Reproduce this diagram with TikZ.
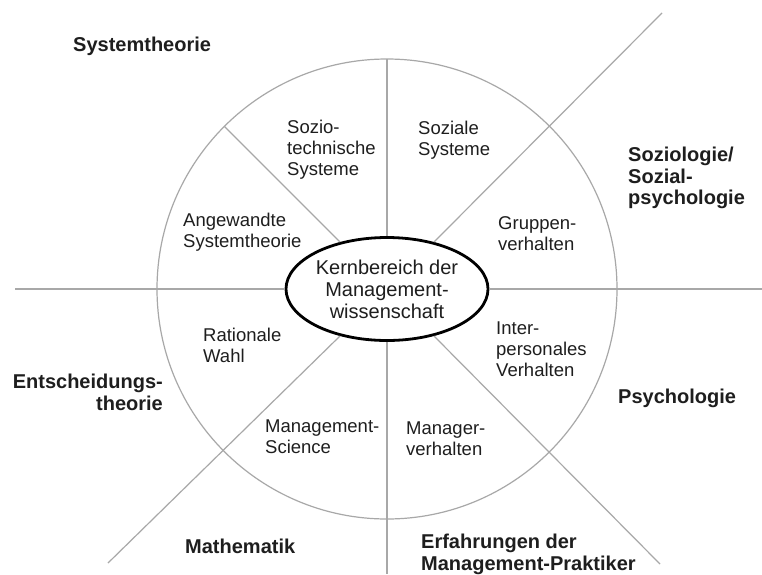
\documentclass[tikz,border=0pt]{standalone}
\usepackage{fontspec}
\setmainfont{Liberation Sans}
\usetikzlibrary{shapes.geometric,calc}
\definecolor{rule}{HTML}{A8A8A8}
\definecolor{ink}{HTML}{1E1E1E}
\begin{document}
\begin{tikzpicture}[x=1pt,y=-1pt,
  rulestyle/.style={draw=rule,line width=1.2pt},
  field/.style={inner sep=0pt,anchor=north west,align=left,text=ink,
    font=\fontsize{18.5}{21}\selectfont},
  discipline/.style={inner sep=0pt,anchor=north west,align=left,text=ink,
    font=\fontsize{20}{21.5}\selectfont\bfseries},
  corebox/.style={ellipse,draw=black,line width=2.8pt,minimum width=202pt,
    minimum height=103pt,inner sep=0pt,align=center,text=ink,
    font=\fontsize{20}{22}\selectfont}]
\useasboundingbox[fill=white] (0,0) rectangle (762,574);

% centre of the wheel and free ends of the dividing lines
\coordinate (C) at (387,289);
\coordinate (n) at (387,59);
\coordinate (s) at (387,574);
\coordinate (w) at (15,289);
\coordinate (e) at (762,289);
\coordinate (nw) at ($(C)+(-162.6,-162.6)$);
\coordinate (ne) at (662,13);
\coordinate (sw) at (108,563);
\coordinate (se) at (660,564);

% outer wheel
\draw[rulestyle] (C) circle[radius=230];

% core field
\node[corebox] (core) at (C) {Kernbereich der\\Management-\\wissenschaft};

% dividing lines
\draw[rulestyle] (w) -- (core.west);
\draw[rulestyle] (core.east) -- (e);
\draw[rulestyle] (n) -- (core.north);
\draw[rulestyle] (core.south) -- (s);
\draw[rulestyle] (core.135) -- (nw);
\draw[rulestyle] (core.45) -- (ne);
\draw[rulestyle] (core.225) -- (sw);
\draw[rulestyle] (core.315) -- (se);

% fields inside the wheel
\node[field] (soziotech) at (287,120) {Sozio-\\technische\\Systeme};
\node[field] (angewandt) at (183,213) {Angewandte\\Systemtheorie};
\node[field] (sozsys) at (418,121) {Soziale\\Systeme};
\node[field] (gruppen) at (498,216) {Gruppen-\\verhalten};
\node[field] (rational) at (203,328) {Rationale\\Wahl};
\node[field] (mgmtsci) at (265,420) {Management-\\Science};
\node[field] (interpers) at (496,322) {Inter-\\personales\\Verhalten};
\node[field] (managerv) at (406,422) {Manager-\\verhalten};

% source disciplines outside the wheel
\node[discipline] (systheorie) at (73,37) {Systemtheorie};
\node[discipline] (soziologie) at (628,147) {Soziologie/\\Sozial-\\psychologie};
\node[discipline,anchor=north east,align=right] (entscheidung) at (163,374) {Entscheidungs-\\theorie};
\node[discipline] (mathematik) at (185,539) {Mathematik};
\node[discipline] (psychologie) at (618,389) {Psychologie};
\node[discipline] (praktiker) at (421,534) {Erfahrungen der\\Management-Praktiker};
\end{tikzpicture}
\end{document}
